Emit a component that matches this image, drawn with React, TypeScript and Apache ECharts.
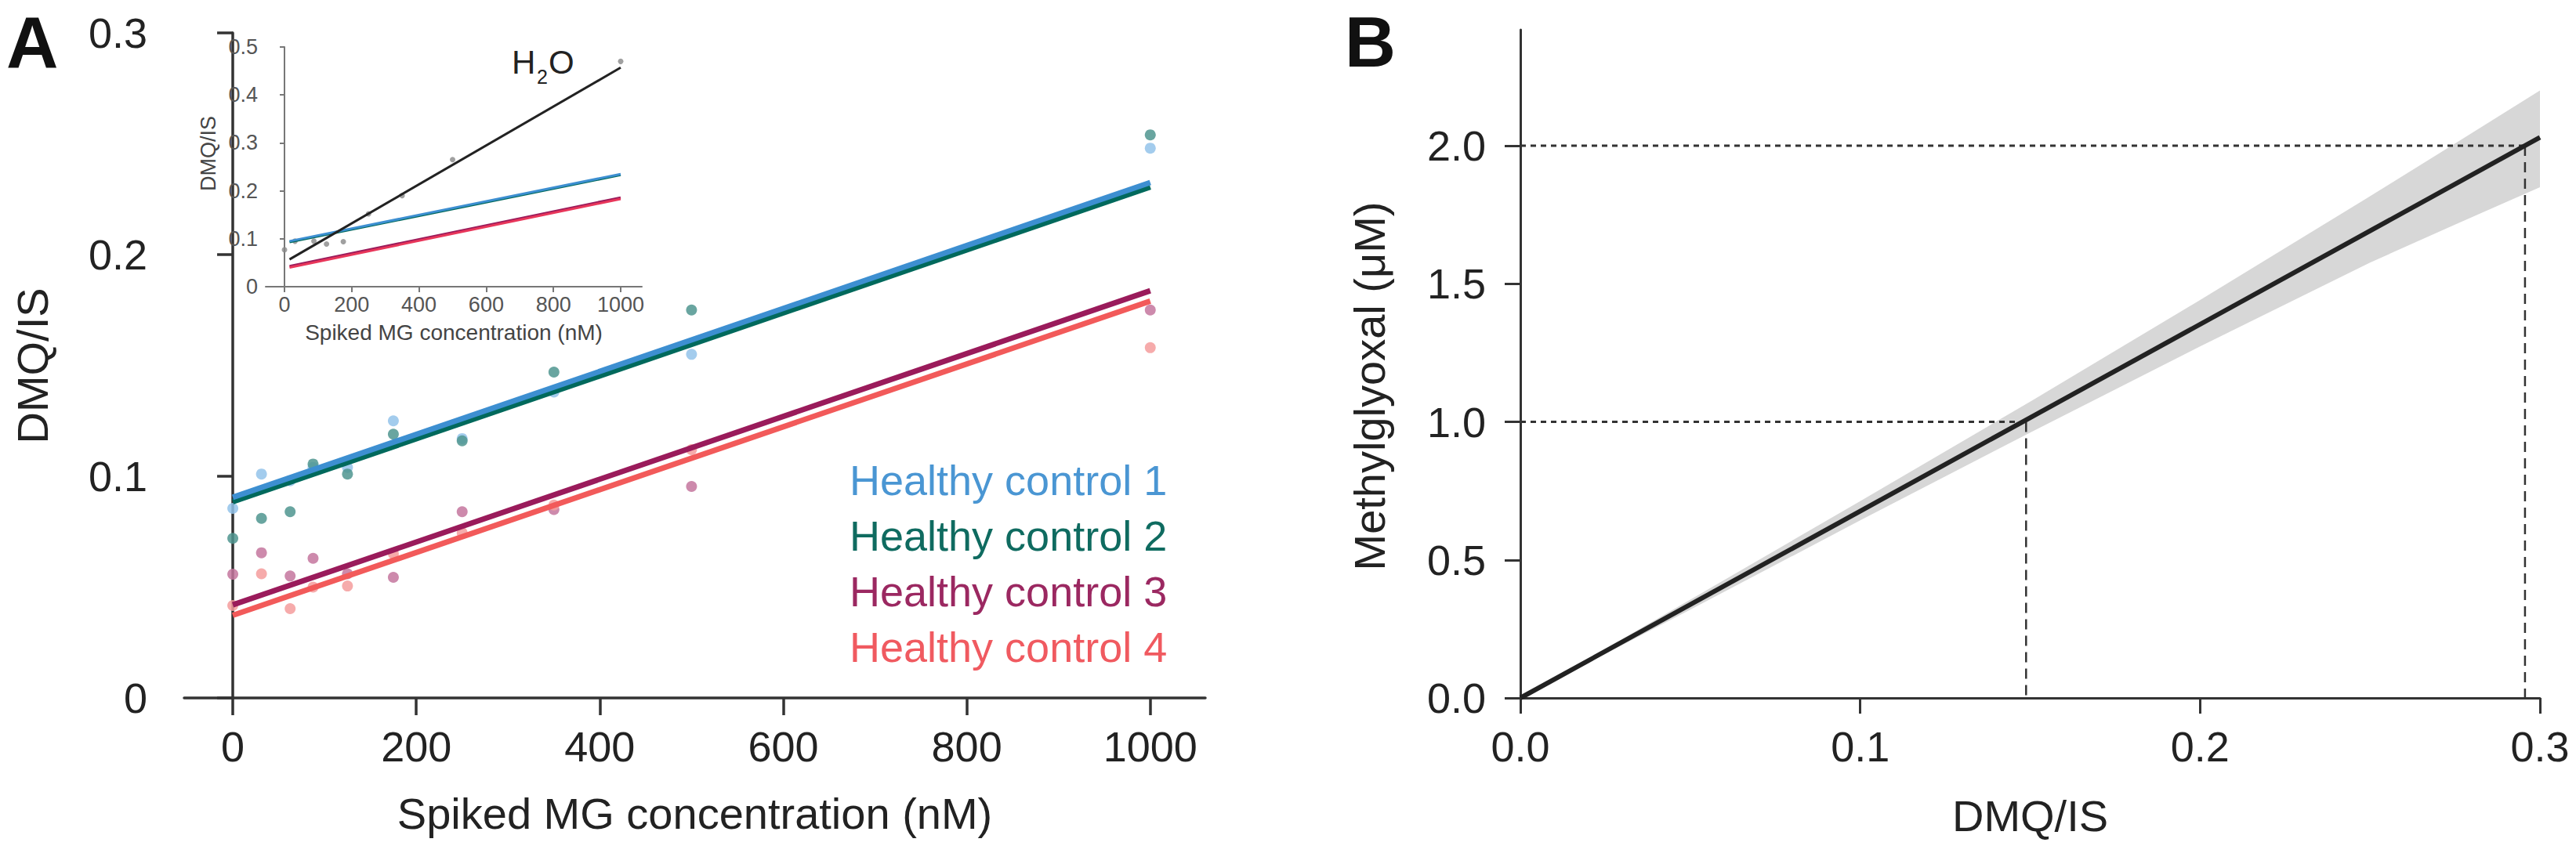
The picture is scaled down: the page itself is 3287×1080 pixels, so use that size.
import React, { useEffect, useRef } from 'react';
import * as echarts from 'echarts';

const FONT = 'Liberation Sans, Arial, Helvetica, sans-serif';

// ---------- Panel A: main scatter ----------
const spikedMG = [0, 31.25, 62.5, 87.5, 125, 175, 250, 350, 500, 1000];
const hc1 = [0.0855, 0.101, 0.098, 0.104, 0.104, 0.125, 0.117, 0.138, 0.155, 0.248];
const hc2 = [0.072, 0.081, 0.084, 0.1055, 0.101, 0.119, 0.116, 0.147, 0.175, 0.254];
const hc3 = [0.0558, 0.0655, 0.055, 0.063, 0.056, 0.0544, 0.084, 0.085, 0.0954, 0.175];
const hc4 = [0.0417, 0.056, 0.0403, 0.05, 0.0505, 0.065, 0.0745, 0.087, 0.112, 0.158];

const fitX = [0, 1000];
const fitHC1 = [0.0905, 0.2325];
const fitHC2 = [0.0885, 0.2305];
const fitHC3 = [0.042, 0.1837];
const fitHC4 = [0.0373, 0.179];

const legendNames = ['Healthy control 1', 'Healthy control 2', 'Healthy control 3', 'Healthy control 4'];
const lineColors = ['#3d8fd1', '#00695c', '#9a1b5b', '#f25a5a'];
const dotColors = ['#93c3ea', '#4f958f', '#c4769e', '#f49c9c'];
const legendColors = ['#4a96d3', '#0f6b60', '#9b2861', '#f05a60'];

const aXTicks = [0, 200, 400, 600, 800, 1000];

// ---------- Panel A: inset (H2O) ----------
const h2oX = [0, 31.25, 87.5, 125, 175, 250, 350, 500, 1000];
const h2oY = [0.077, 0.095, 0.095, 0.089, 0.094, 0.152, 0.19, 0.265, 0.47];
const insetFitX = [15, 1000];
const insetH2O = [0.057, 0.457];
const insetHC12 = [0.095, 0.235];
const insetHC34 = [0.04, 0.183];
const insetXTicks = [0, 200, 400, 600, 800, 1000];

// ---------- Panel B ----------
const bLineX = [0, 0.3];
const bLineY = [0, 2.03];
const bandX = [0, 0.05, 0.1, 0.15, 0.2, 0.25, 0.275, 0.3];
const bandUpper = [0, 0.356, 0.713, 1.073, 1.441, 1.817, 2.008, 2.2];
const bandLower = [0, 0.32, 0.643, 0.961, 1.273, 1.577, 1.714, 1.85];
const refX = [0.1488, 0.2956];
const refY = [1.0, 2.0];
const bYTicks = [0, 0.5, 1.0, 1.5, 2.0];

const pairs = (xs: number[], ys: number[]) => xs.map((x, i) => [x, ys[i]]);

const AXIS_COLOR = '#333';

function mainAxisBase(extra: any) {
  return {
    type: 'value',
    splitLine: { show: false },
    axisLine: { show: true, lineStyle: { color: AXIS_COLOR, width: 3.5 } },
    axisTick: { show: true, length: 20, inside: false, lineStyle: { color: AXIS_COLOR, width: 3.5 } },
    axisLabel: { fontSize: 54, color: '#222', fontFamily: FONT },
    ...extra,
  };
}

export default function App() {
  const ref = useRef<HTMLDivElement>(null);

  useEffect(() => {
    if (!ref.current) return;
    const chart = echarts.init(ref.current, undefined, { renderer: 'svg' });

    const fmtA = (v: number) => (v === 0 ? '0' : v.toFixed(1));
    const fmtInt = (v: number) => String(Math.round(v));

    const option: any = {
      animation: false,
      backgroundColor: '#ffffff',
      textStyle: { fontFamily: FONT },
      grid: [
        { left: 235, top: 42, width: 1303, height: 849, outerBoundsMode: 'none' },
        { left: 339, top: 60, width: 480, height: 306, outerBoundsMode: 'none' },
        { left: 1940, top: 38, width: 1301, height: 853, outerBoundsMode: 'none' },
      ],
      xAxis: [
        mainAxisBase({
          gridIndex: 0,
          min: -53,
          max: 1060,
          axisTick: { show: true, length: 22, lineStyle: { color: AXIS_COLOR, width: 3.5 }, customValues: aXTicks },
          axisLabel: { fontSize: 54, color: '#222', fontFamily: FONT, margin: 35, customValues: aXTicks, formatter: fmtInt },
          name: 'Spiked MG concentration (nM)',
          nameLocation: 'middle',
          nameGap: 119,
          nameTextStyle: { fontSize: 56, color: '#222', fontFamily: FONT },
        }),
        {
          type: 'value',
          gridIndex: 1,
          min: -56,
          max: 1063,
          splitLine: { show: false },
          axisLine: { show: true, lineStyle: { color: '#777', width: 2 } },
          axisTick: { show: true, length: 7, lineStyle: { color: '#777', width: 2 }, customValues: insetXTicks },
          axisLabel: { fontSize: 27, color: '#555', fontFamily: FONT, margin: 9, customValues: insetXTicks, formatter: fmtInt },
          name: 'Spiked MG concentration (nM)',
          nameLocation: 'middle',
          nameGap: 44,
          nameTextStyle: { fontSize: 28, color: '#444', fontFamily: FONT },
        },
        mainAxisBase({
          gridIndex: 2,
          min: 0,
          max: 0.3,
          interval: 0.1,
          axisLine: { show: true, lineStyle: { color: AXIS_COLOR, width: 3 } },
          axisTick: { show: true, length: 20, lineStyle: { color: AXIS_COLOR, width: 3 } },
          axisLabel: { fontSize: 54, color: '#222', fontFamily: FONT, margin: 35, formatter: (v: number) => v.toFixed(1) },
          name: 'DMQ/IS',
          nameLocation: 'middle',
          nameGap: 122,
          nameTextStyle: { fontSize: 56, color: '#222', fontFamily: FONT },
        }),
      ],
      yAxis: [
        mainAxisBase({
          gridIndex: 0,
          min: 0,
          max: 0.3,
          interval: 0.1,
          axisLabel: { fontSize: 54, color: '#222', fontFamily: FONT, margin: 47, formatter: fmtA },
        }),
        {
          type: 'value',
          gridIndex: 1,
          min: 0,
          max: 0.5,
          interval: 0.1,
          splitLine: { show: false },
          axisLine: { show: true, lineStyle: { color: '#777', width: 2 } },
          axisTick: { show: true, length: 6, lineStyle: { color: '#777', width: 2 } },
          axisLabel: { fontSize: 27, color: '#555', fontFamily: FONT, margin: 10, formatter: fmtA },
        },
        mainAxisBase({
          gridIndex: 2,
          min: 0,
          max: 2.42,
          axisLine: { show: true, lineStyle: { color: AXIS_COLOR, width: 3 } },
          axisTick: { show: true, length: 20, lineStyle: { color: AXIS_COLOR, width: 3 }, customValues: bYTicks },
          axisLabel: { fontSize: 54, color: '#222', fontFamily: FONT, margin: 44, customValues: bYTicks, formatter: (v: number) => v.toFixed(1) },
        }),
      ],
      series: [] as any[],
      graphic: [] as any[],
    };

    // Panel A dots
    const hcData = [hc1, hc2, hc3, hc4];
    hcData.forEach((vals, i) => {
      option.series.push({
        type: 'scatter',
        name: legendNames[i] + ' data',
        xAxisIndex: 0,
        yAxisIndex: 0,
        symbol: 'circle',
        symbolSize: 14,
        itemStyle: { color: dotColors[i], opacity: 0.85 },
        data: pairs(spikedMG, vals),
        z: 2,
        silent: true,
      });
    });

    // Panel A fitted lines (teal under blue, magenta/red)
    const fits = [fitHC2, fitHC1, fitHC3, fitHC4];
    const fitColor = [lineColors[1], lineColors[0], lineColors[2], lineColors[3]];
    fits.forEach((f, i) => {
      option.series.push({
        type: 'line',
        xAxisIndex: 0,
        yAxisIndex: 0,
        symbol: 'none',
        data: pairs(fitX, f),
        lineStyle: { color: fitColor[i], width: 7, cap: 'butt' },
        z: 3,
        silent: true,
      });
    });

    // Inset
    option.series.push({
      type: 'scatter',
      xAxisIndex: 1,
      yAxisIndex: 1,
      symbolSize: 7,
      itemStyle: { color: '#888' },
      data: pairs(h2oX, h2oY),
      z: 2,
      silent: true,
    });
    const insetLines = [
      { d: insetHC12.map((v) => v - 0.002), c: lineColors[1] },
      { d: insetHC12, c: lineColors[0] },
      { d: insetHC34.map((v) => v + 0.003), c: lineColors[2] },
      { d: insetHC34, c: '#e8365a' },
      { d: insetH2O, c: '#222' },
    ];
    insetLines.forEach((l) => {
      option.series.push({
        type: 'line',
        xAxisIndex: 1,
        yAxisIndex: 1,
        symbol: 'none',
        data: pairs(insetFitX, l.d),
        lineStyle: { color: l.c, width: 3 },
        z: 3,
        silent: true,
      });
    });

    // Panel B band
    option.series.push({
      type: 'custom',
      xAxisIndex: 2,
      yAxisIndex: 2,
      data: [[0, 0]],
      silent: true,
      clip: false,
      z: 1,
      renderItem: (_p: any, api: any) => {
        const pts: number[][] = [];
        bandX.forEach((x, i) => pts.push(api.coord([x, bandUpper[i]])));
        for (let i = bandX.length - 1; i >= 0; i--) pts.push(api.coord([bandX[i], bandLower[i]]));
        return { type: 'polygon', shape: { points: pts }, style: { fill: '#d7d7d7' } };
      },
    });

    // Panel B reference dashed lines
    refX.forEach((rx, i) => {
      option.series.push({
        type: 'line',
        xAxisIndex: 2,
        yAxisIndex: 2,
        symbol: 'none',
        data: [[0, refY[i]], [rx, refY[i]]],
        lineStyle: { color: '#333', width: 3, type: [7, 6] },
        z: 2,
        silent: true,
      });
      option.series.push({
        type: 'line',
        xAxisIndex: 2,
        yAxisIndex: 2,
        symbol: 'none',
        data: [[rx, refY[i]], [rx, 0]],
        lineStyle: { color: '#333', width: 2.5, type: [13, 8] },
        z: 2,
        silent: true,
      });
    });

    // Panel B regression line
    option.series.push({
      type: 'line',
      xAxisIndex: 2,
      yAxisIndex: 2,
      symbol: 'none',
      data: pairs(bLineX, bLineY),
      lineStyle: { color: '#222', width: 6 },
      clip: false,
      z: 4,
      silent: true,
    });

    // Texts
    const g = option.graphic;
    g.push({ type: 'text', x: 8, y: 8, style: { text: 'A', fontSize: 92, fontWeight: 'bold', fontFamily: FONT, fill: '#111', textVerticalAlign: 'top' } });
    g.push({ type: 'text', x: 1716, y: 9, style: { text: 'B', fontSize: 90, fontWeight: 'bold', fontFamily: FONT, fill: '#111', textVerticalAlign: 'top' } });
    g.push({ type: 'text', x: 41, y: 467, rotation: Math.PI / 2, style: { text: 'DMQ/IS', fontSize: 56, fontFamily: FONT, fill: '#222', textAlign: 'center', textVerticalAlign: 'middle' } });
    g.push({ type: 'text', x: 1747, y: 493, rotation: Math.PI / 2, style: { text: 'Methylglyoxal (μM)', fontSize: 56, fontFamily: FONT, fill: '#222', textAlign: 'center', textVerticalAlign: 'middle' } });
    g.push({ type: 'text', x: 266, y: 196, rotation: Math.PI / 2, style: { text: 'DMQ/IS', fontSize: 27, fontFamily: FONT, fill: '#444', textAlign: 'center', textVerticalAlign: 'middle' } });
    // H2O label
    g.push({ type: 'text', x: 653, y: 79, style: { text: 'H', fontSize: 42, fontFamily: FONT, fill: '#222', textVerticalAlign: 'middle' } });
    g.push({ type: 'text', x: 685, y: 98, style: { text: '2', fontSize: 25, fontFamily: FONT, fill: '#222', textVerticalAlign: 'middle' } });
    g.push({ type: 'text', x: 700, y: 79, style: { text: 'O', fontSize: 42, fontFamily: FONT, fill: '#222', textVerticalAlign: 'middle' } });
    // Legend
    const legendY = [613, 684, 755, 826];
    legendNames.forEach((n, i) => {
      g.push({ type: 'text', x: 1084, y: legendY[i], style: { text: n, fontSize: 54, fontFamily: FONT, fill: legendColors[i], textVerticalAlign: 'middle' } });
    });

    chart.setOption(option);
    return () => chart.dispose();
  }, []);

  return <div ref={ref} style={{ position: 'absolute', left: 0, top: 0, width: 3287, height: 1080, background: '#fff' }} />;
}
